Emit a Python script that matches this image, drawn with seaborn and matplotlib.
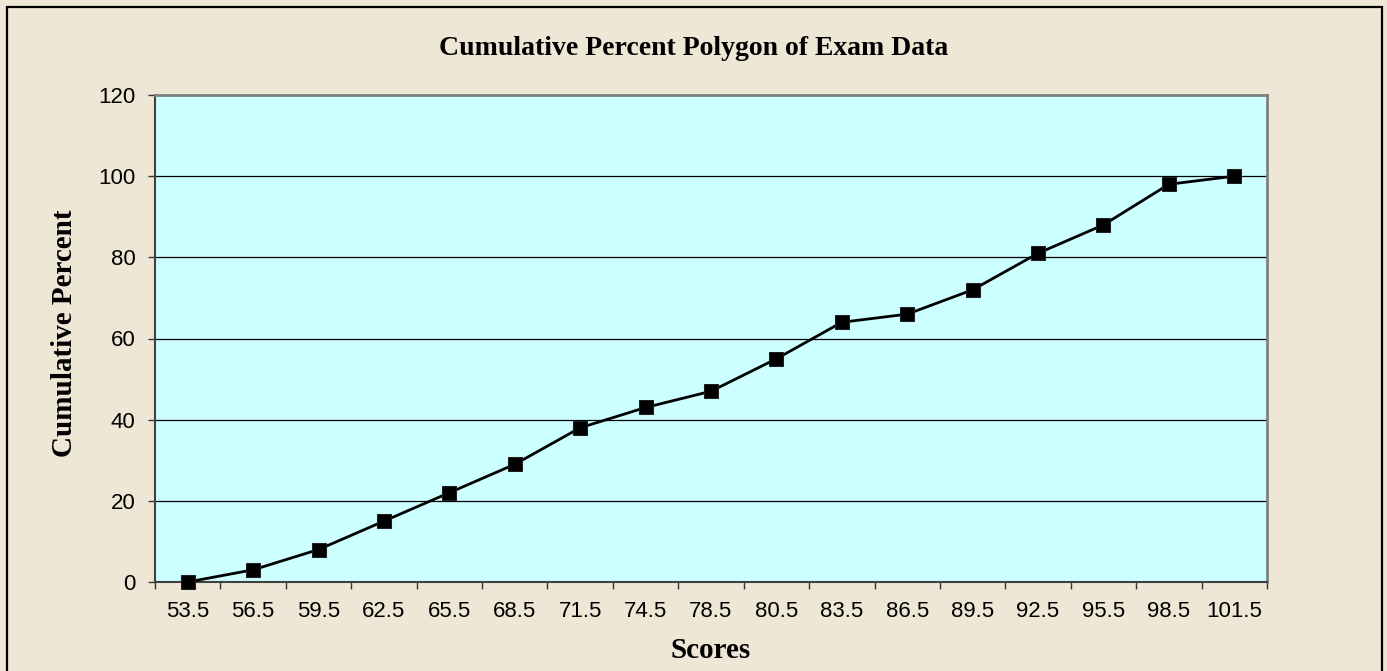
import matplotlib
matplotlib.use("Agg")
import matplotlib.pyplot as plt
import seaborn as sns
import pandas as pd
from matplotlib.patches import Rectangle

scores = ["53.5", "56.5", "59.5", "62.5", "65.5", "68.5", "71.5", "74.5", "78.5",
          "80.5", "83.5", "86.5", "89.5", "92.5", "95.5", "98.5", "101.5"]
cum_percent = [0, 3, 8, 15, 22, 29, 38, 43, 47, 55, 64, 66, 72, 81, 88, 98, 100]
y_ticks = [0, 20, 40, 60, 80, 100, 120]

df = pd.DataFrame({"Scores": scores, "Cumulative Percent": cum_percent})
df["pos"] = range(len(scores))

sns.set_theme(style="white")
plt.rcParams["font.family"] = ["Liberation Sans", "DejaVu Sans"]
plt.rcParams["text.color"] = "black"
plt.rcParams["xtick.color"] = "black"
plt.rcParams["ytick.color"] = "black"

W, H = 1387, 671
fig = plt.figure(figsize=(W / 100, H / 100), dpi=100)
fig.patch.set_facecolor("#EFE7D6")
fig.patches.append(Rectangle((7 / W, -0.05), (1382 - 7) / W, 1.05 - 7 / H,
                             transform=fig.transFigure, fill=False,
                             edgecolor="black", linewidth=1.6, zorder=10))

ax = fig.add_axes([155 / W, (H - 582) / H, (1267 - 155) / W, (582 - 95) / H])
ax.set_facecolor("#CCFFFF")

sns.lineplot(data=df, x="pos", y="Cumulative Percent", ax=ax, color="black",
             linewidth=2, marker="s", markersize=10.5, markerfacecolor="black",
             markeredgecolor="#202020", zorder=5, clip_on=False)

ax.set_xlim(-0.5, len(scores) - 0.5)
ax.set_ylim(0, 120)
ax.set_yticks(y_ticks)
ax.set_yticklabels([str(v) for v in y_ticks], fontsize=16)
ax.set_xticks([i - 0.5 for i in range(len(scores) + 1)])
ax.set_xticklabels([])
ax.set_xticks(list(range(len(scores))), minor=True)
ax.set_xticklabels(scores, minor=True, fontsize=16)
ax.tick_params(axis="x", which="major", direction="out", length=5, width=1,
               color="#333333", bottom=True)
ax.tick_params(axis="x", which="minor", length=0, pad=14)
ax.tick_params(axis="y", direction="out", length=5, width=1, color="#333333",
               left=True, pad=9)
for y in y_ticks[1:-1]:
    ax.axhline(y, color="black", linewidth=0.9, zorder=1)

for side in ["top", "right"]:
    ax.spines[side].set_color("#808080")
    ax.spines[side].set_linewidth(2)
for side in ["left", "bottom"]:
    ax.spines[side].set_color("#404040")
    ax.spines[side].set_linewidth(1.5)

ax.set_xlabel("")
ax.set_ylabel("")
fig.text(711 / W, 1 - 658 / H, "Scores", ha="center", va="baseline",
         fontfamily="Liberation Serif", fontweight="bold", fontsize=21)
fig.text(72 / W, 1 - 333 / H, "Cumulative Percent", ha="center", va="baseline",
         rotation=90, rotation_mode="anchor",
         fontfamily="Liberation Serif", fontweight="bold", fontsize=21)
fig.text(694 / W, 1 - 55 / H, "Cumulative Percent Polygon of Exam Data",
         ha="center", va="baseline", fontfamily="Liberation Serif",
         fontweight="bold", fontsize=20)

fig.savefig("out.png", dpi=100, facecolor=fig.get_facecolor())
